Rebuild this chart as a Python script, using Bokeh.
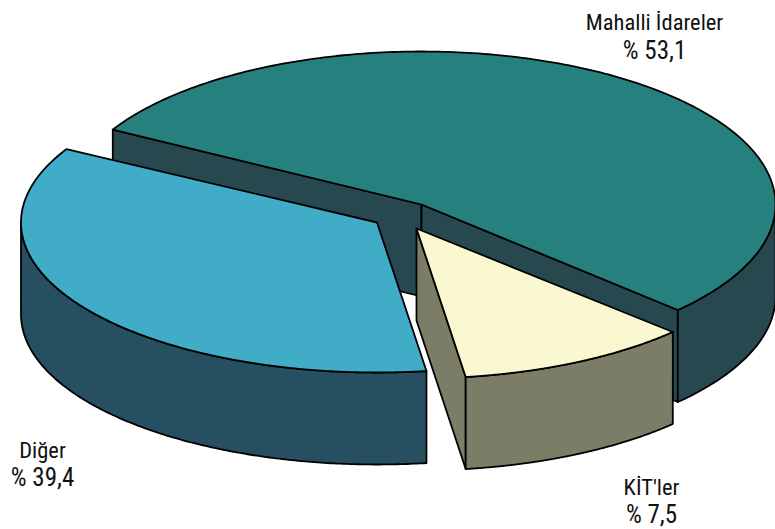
import numpy as np
from bokeh.plotting import figure
from bokeh.embed import file_html
from bokeh.resources import INLINE
from bokeh.core.properties import value

# data, clockwise from the back-left edge of the largest slice
names = ["Mahalli İdareler", "KİT'ler", "Diğer"]
shares = [53.1, 7.5, 39.4]
share_labels = ["% 53,1", "% 7,5", "% 39,4"]

top_colors = ["#26807e", "#faf8d0", "#40acc8"]
side_colors = ["#27484f", "#7c7d66", "#264f61"]

# projection: apex x, apex y, x radius, y radius for each slice
geometry = [(421, 204, 354, 153), (416, 228, 354, 150), (376.5, 222, 356, 150)]
depth = 92
start_angle = 150.0
warp = (1.69, 14.06, 22.38)   # the drawing's perspective bends the slice angles
label_pos = [(654, [21, 50]), (651, [486, 514]), (42, [449, 477])]


def warped(theta):
    r = np.radians(theta)
    return theta + warp[0] + warp[1] * np.cos(r) + warp[2] * np.sin(r)


p = figure(width=775, height=529, x_range=(0, 775), y_range=(529, 0),
           toolbar_location=None, output_backend="svg", min_border=0)
p.axis.visible = False
p.grid.visible = False
p.outline_line_color = None

LW = 1.8
style = dict(line_color="black", line_width=LW, line_join="round")

cum = np.cumsum([0] + shares) / sum(shares) * 360.0
draw_order = [0, 2, 1]
for i in draw_order:
    cx, cy, rx, ry = geometry[i]
    a0 = warped(start_angle - cum[i])
    a1 = warped(start_angle - cum[i + 1])
    if a1 > a0:
        a1 -= 360
    phi = np.linspace(a0, a1, 240)
    rad = np.radians(phi)
    xs = cx + rx * np.cos(rad)
    ys = cy - ry * np.sin(rad)

    # cut faces that look towards the viewer
    if i == 0:
        p.patch([cx, xs[0], xs[0], cx], [cy, ys[0], ys[0] + depth, cy + depth],
                fill_color=side_colors[i], **style)
        p.patch([cx, xs[-1], xs[-1], cx], [cy, ys[-1], ys[-1] + depth, cy + depth],
                fill_color=side_colors[i], **style)
    if i == 1:
        p.patch([cx, xs[-1], xs[-1], cx], [cy, ys[-1], ys[-1] + depth, cy + depth],
                fill_color=side_colors[i], **style)

    # outer wall: only the front half of the rim
    wrapped = (phi + 180) % 360 - 180
    front = wrapped <= 0
    wx, wy = xs[front], ys[front]
    p.patch(list(wx) + list(wx[::-1]), list(wy) + list(wy[::-1] + depth),
            fill_color=side_colors[i], **style)

    # top surface
    p.patch([cx] + list(xs), [cy] + list(ys), fill_color=top_colors[i], **style)

    lx, lys = label_pos[i]
    p.text([lx], [lys[0]], text=[names[i]], text_align="center",
           text_baseline="middle", text_font=value("Roboto Condensed"),
           text_font_size="22.5px", text_color="#111111")
    p.text([lx], [lys[1]], text=[share_labels[i]], text_align="center",
           text_baseline="middle", text_font=value("Roboto Condensed"),
           text_font_size="25px", text_color="#111111")

open("out.html", "w").write(file_html(p, INLINE))
